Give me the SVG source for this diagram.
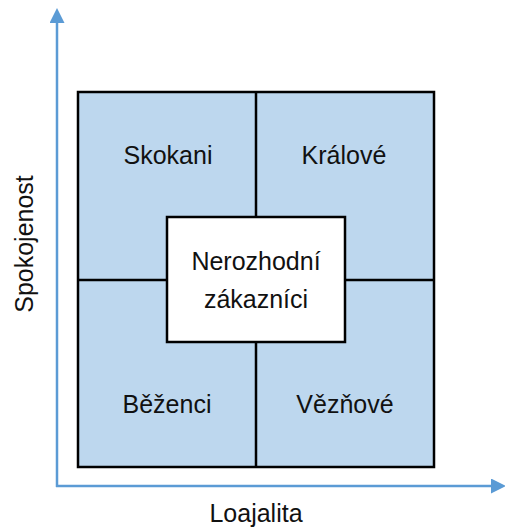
<svg xmlns="http://www.w3.org/2000/svg" width="505" height="530" viewBox="0 0 505 530">
<style>
.q{fill:#BDD7EE;stroke:none}
.ln{stroke:#000;stroke-width:2.5;fill:none}
.ax{stroke:#5B9BD5;stroke-width:2.5;fill:none}
.t{font-family:"Liberation Sans",Arial,sans-serif;font-size:25px;fill:#111;text-anchor:middle}
</style>
<defs>
<marker id="ah" viewBox="0 0 10 10" refX="2" refY="5" markerWidth="6" markerHeight="6" markerUnits="strokeWidth" orient="auto">
<path d="M0,0 L10,5 L0,10 z" fill="#5B9BD5"/>
</marker>
</defs>
<g id="axes">
<line class="ax" x1="57" y1="487" x2="57" y2="20" marker-end="url(#ah)"/>
<line class="ax" x1="56" y1="486" x2="494" y2="486" marker-end="url(#ah)"/>
</g>
<g id="grid">
<rect class="q" x="78" y="92" width="356" height="375"/>
<rect class="ln" x="78" y="92" width="356" height="375"/>
<line class="ln" x1="256" y1="92" x2="256" y2="467"/>
<line class="ln" x1="78" y1="280" x2="434" y2="280"/>
</g>
<g id="skokani"><text class="t" x="168" y="164">Skokani</text></g>
<g id="kralove"><text class="t" x="344" y="164">Králové</text></g>
<g id="bezenci"><text class="t" x="167" y="413">Běženci</text></g>
<g id="veznove"><text class="t" x="345" y="413">Vězňové</text></g>
<g id="nerozhodni">
<rect x="167" y="217" width="178" height="125" fill="#fff" stroke="#000" stroke-width="2.5"/>
<text class="t" x="256" y="270">Nerozhodní</text>
<text class="t" x="256" y="308">zákazníci</text>
</g>
<g id="labels">
<text class="t" x="256" y="522">Loajalita</text>
<text class="t" transform="translate(33,244) rotate(-90)">Spokojenost</text>
</g>
</svg>
